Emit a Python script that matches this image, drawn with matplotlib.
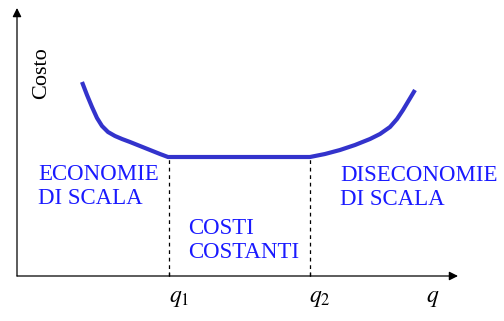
import matplotlib
matplotlib.use("Agg")
import matplotlib.pyplot as plt

# curve (units: px from the origin of the axes)
quantity = [65, 70, 75, 80, 85, 91, 98, 105, 113, 123, 133, 143, 151,
            293, 308, 323, 338, 353, 363, 373, 380, 386, 392, 398]
cost = [194, 181, 169, 158, 150, 144, 140, 137, 134, 130, 126, 122, 119,
        119, 122, 126, 131, 137, 142, 149, 157, 166, 176, 186]
q_marks = [152, 293]
q_labels = ["$q_1$", "$q_2$"]
regions = ["ECONOMIE\nDI SCALA", "COSTI\nCOSTANTI", "DISECONOMIE\nDI SCALA"]
region_x = [21, 171, 323]
region_y = [72, 18, 71]

plt.rcParams["font.family"] = "Liberation Serif"
plt.rcParams["mathtext.fontset"] = "stix"

fig = plt.figure(figsize=(5.04, 3.21), dpi=100)
ax = fig.add_axes([0, 0, 1, 1])
ax.set_xlim(-17, 487)
ax.set_ylim(-45, 276)
ax.axis("off")

# axes with arrows
ax.annotate("", xy=(441, 0), xytext=(0, 0),
            arrowprops=dict(arrowstyle="-|>", color="k", lw=0.9,
                            mutation_scale=13, shrinkA=0, shrinkB=0))
ax.annotate("", xy=(0, 268), xytext=(0, 0),
            arrowprops=dict(arrowstyle="-|>", color="k", lw=0.9,
                            mutation_scale=13, shrinkA=0, shrinkB=0))

ax.plot(quantity, cost, color="#3333cc", lw=3, solid_capstyle="butt",
        solid_joinstyle="round")

ax.vlines(q_marks, 0, cost[12], colors="k", linestyles=(0, (3, 3)), lw=0.9)
ax.vlines(q_marks, 0, 4, colors="k", lw=0.9)

for x, lab in zip(q_marks, q_labels):
    ax.text(x + 10, -26, lab, fontsize=17, ha="center", va="baseline")
ax.text(416, -26, "$q$", fontsize=17, ha="center", va="baseline")

ax.text(25, 203, "Costo", fontsize=16, rotation=90, ha="center", va="center")

for x, y, lab in zip(region_x, region_y, regions):
    ax.text(x, y, lab, fontsize=16.5, color="#1a1aff", ha="left",
            va="baseline", linespacing=1.2)

fig.savefig("out.png", dpi=100)
